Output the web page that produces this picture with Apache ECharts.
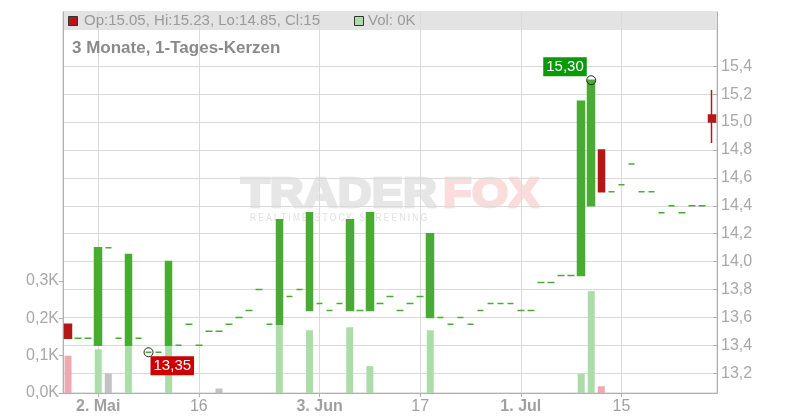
<!DOCTYPE html>
<html>
<head>
<meta charset="utf-8">
<script src="https://cdn.jsdelivr.net/npm/echarts@6/dist/echarts.min.js"></script>
<style>
html,body{margin:0;padding:0;background:#fff;}
#chart{width:800px;height:420px;}
</style>
</head>
<body>
<div id="chart"></div>
<script>
const dates = ['2024-04-29','2024-04-30','2024-05-01','2024-05-02','2024-05-03','2024-05-06','2024-05-07','2024-05-08','2024-05-09','2024-05-10',
 '2024-05-13','2024-05-14','2024-05-15','2024-05-16','2024-05-17','2024-05-20','2024-05-21','2024-05-22','2024-05-23','2024-05-24',
 '2024-05-27','2024-05-28','2024-05-29','2024-05-30','2024-05-31','2024-06-03','2024-06-04','2024-06-05','2024-06-06','2024-06-07',
 '2024-06-10','2024-06-11','2024-06-12','2024-06-13','2024-06-14','2024-06-17','2024-06-18','2024-06-19','2024-06-20','2024-06-21',
 '2024-06-24','2024-06-25','2024-06-26','2024-06-27','2024-06-28','2024-07-01','2024-07-02','2024-07-03','2024-07-04','2024-07-05',
 '2024-07-08','2024-07-09','2024-07-10','2024-07-11','2024-07-12','2024-07-15','2024-07-16','2024-07-17','2024-07-18','2024-07-19',
 '2024-07-22','2024-07-23','2024-07-24','2024-07-25','2024-07-26'];

const opens = [13.55,13.45,13.45,13.40,14.10,13.45,13.40,13.45,13.35,13.35,
 13.40,13.40,13.55,13.40,13.50,13.50,13.55,13.60,13.65,13.80,
 13.55,13.55,13.75,13.80,13.65,13.70,13.65,13.70,13.65,13.65,
 13.65,13.70,13.75,13.65,13.70,13.75,13.60,13.60,13.55,13.60,
 13.55,13.65,13.70,13.70,13.70,13.65,13.65,13.85,13.85,13.90,
 13.90,13.90,14.40,14.80,14.50,14.55,14.70,14.50,14.50,14.35,
 14.40,14.35,14.40,14.40,15.05];

const closes = [13.45,13.45,13.45,14.10,14.10,13.45,14.05,13.45,13.35,13.35,
 14.00,13.40,13.55,13.40,13.50,13.50,13.55,13.60,13.65,13.80,
 13.55,14.30,13.75,13.80,14.35,13.70,13.65,13.70,14.30,13.65,
 14.35,13.70,13.75,13.65,13.70,13.75,14.20,13.60,13.55,13.60,
 13.55,13.65,13.70,13.70,13.70,13.65,13.65,13.85,13.85,13.90,
 13.90,15.15,15.30,14.50,14.50,14.55,14.70,14.50,14.50,14.35,
 14.40,14.35,14.40,14.40,15.00];

const highs = [13.55,13.45,13.45,14.10,14.10,13.45,14.05,13.45,13.35,13.35,
 14.00,13.40,13.55,13.40,13.50,13.50,13.55,13.60,13.65,13.80,
 13.55,14.30,13.75,13.80,14.35,13.70,13.65,13.70,14.30,13.65,
 14.35,13.70,13.75,13.65,13.70,13.75,14.20,13.60,13.55,13.60,
 13.55,13.65,13.70,13.70,13.70,13.65,13.65,13.85,13.85,13.90,
 13.90,15.15,15.30,14.80,14.50,14.55,14.70,14.50,14.50,14.35,
 14.40,14.35,14.40,14.40,15.23];

const lows = [13.45,13.45,13.45,13.40,14.10,13.45,13.40,13.45,13.35,13.35,
 13.40,13.40,13.55,13.40,13.50,13.50,13.55,13.60,13.65,13.80,
 13.55,13.55,13.75,13.80,13.65,13.70,13.65,13.70,13.65,13.65,
 13.65,13.70,13.75,13.65,13.70,13.75,13.60,13.60,13.55,13.60,
 13.55,13.65,13.70,13.70,13.70,13.65,13.65,13.85,13.85,13.90,
 13.90,13.90,14.40,14.50,14.50,14.55,14.70,14.50,14.50,14.35,
 14.40,14.35,14.40,14.40,14.85];

const volumes = [100,0,0,117,53,0,130,0,0,0,
 130,0,0,0,0,12,0,0,0,0,
 0,185,0,0,168,0,0,0,176,0,
 72,0,0,0,0,0,168,0,0,0,
 0,0,0,0,0,0,0,0,0,0,
 0,52,273,18,0,0,0,0,0,0,
 0,0,0,0,0];

const xTickLabels = {3:'2. Mai', 13:'16', 25:'3. Jun', 35:'17', 45:'1. Jul', 55:'15'};
const xBoldTicks = [3, 25, 45];
const priceTicks = [13.2,13.4,13.6,13.8,14.0,14.2,14.4,14.6,14.8,15.0,15.2,15.4];
const volumeTicks = [0,100,200,300];
const highMark = {date:'2024-07-10', value:15.30, text:'15,30'};
const lowMark = {date:'2024-05-09', value:13.35, text:'13,35'};
const headerText = 'Op:15.05, Hi:15.23, Lo:14.85, Cl:15';
const volText = 'Vol: 0K';
const titleText = '3 Monate, 1-Tages-Kerzen';

const GREEN = '#4aab34', RED = '#b31717';
const VGREEN = '#acdda8', VRED = '#f0a8b0', VGRAY = '#c2c2c2';
const FONT = '"Liberation Sans", Arial, sans-serif';

const candleData = dates.map((d, i) => {
  const item = {value: [opens[i], closes[i], lows[i], highs[i]]};
  if (closes[i] < opens[i]) {
    item.itemStyle = {color: RED, color0: RED, borderColor: RED, borderColor0: RED};
  }
  return item;
});
const volData = dates.map((d, i) => ({
  value: volumes[i],
  itemStyle: {color: closes[i] > opens[i] ? VGREEN : (closes[i] < opens[i] ? VRED : VGRAY)}
}));

const chart = echarts.init(document.getElementById('chart'), null, {renderer: 'canvas'});
const showTick = (idx) => xTickLabels[idx] !== undefined;

chart.setOption({
  animation: false,
  textStyle: {fontFamily: FONT},
  grid: {left: 63, right: 83, top: 12, bottom: 27, show: true, borderColor: '#c8c8c8', borderWidth: 1, backgroundColor: 'transparent'},
  xAxis: {
    type: 'category',
    data: dates,
    boundaryGap: true,
    axisLine: {show: true, lineStyle: {color: '#b0b0b0'}},
    axisTick: {show: true, alignWithLabel: true, interval: showTick, length: 4, lineStyle: {color: '#b0b0b0'}},
    splitLine: {show: true, alignWithLabel: true, interval: showTick, lineStyle: {color: '#dadada', width: 1}},
    axisLabel: {
      interval: showTick,
      margin: 6,
      fontSize: 16,
      color: '#a0a0a0',
      formatter: (v, idx) => {
        const t = xTickLabels[idx];
        if (t === undefined) return '';
        return xBoldTicks.includes(idx) ? '{b|' + t + '}' : t;
      },
      rich: {b: {fontWeight: 'bold', fontSize: 16, color: '#a0a0a0', fontFamily: FONT}}
    }
  },
  yAxis: [
    {
      type: 'value',
      position: 'right',
      min: 13.058,
      max: 15.789,
      axisLine: {show: true, lineStyle: {color: '#b0b0b0'}},
      axisTick: {show: true, inside: true, length: 4, customValues: priceTicks, lineStyle: {color: '#b0b0b0'}},
      splitLine: {show: true, lineStyle: {color: '#dadada', width: 1}},
      axisLabel: {
        customValues: priceTicks,
        margin: 4,
        fontSize: 16,
        color: '#a8a8a8',
        formatter: v => v.toFixed(1).replace('.', ',')
      }
    },
    {
      type: 'value',
      position: 'left',
      min: 0,
      max: 1020.6,
      axisLine: {show: true, lineStyle: {color: '#b0b0b0'}},
      axisTick: {show: true, length: 4, customValues: volumeTicks, lineStyle: {color: '#b0b0b0'}},
      splitLine: {show: false},
      axisLabel: {
        customValues: volumeTicks,
        margin: 4,
        fontSize: 16,
        color: '#a8a8a8',
        formatter: v => (v / 1000).toFixed(1).replace('.', ',') + 'K'
      }
    }
  ],
  graphic: [
    {type: 'rect', z: 0, silent: true, shape: {x: 63, y: 12, width: 654, height: 18}, style: {fill: '#e3e3e3'}},
    {type: 'rect', z: 10, silent: true, shape: {x: 68.5, y: 16.5, width: 9, height: 9}, style: {fill: RED, stroke: '#333', lineWidth: 1}},
    {type: 'text', z: 10, silent: true, x: 84, y: 21, style: {text: headerText, font: '15px ' + FONT, fill: '#9a9a9a', verticalAlign: 'middle'}},
    {type: 'rect', z: 10, silent: true, shape: {x: 354.5, y: 16.5, width: 9, height: 9}, style: {fill: VGREEN, stroke: '#333', lineWidth: 1}},
    {type: 'text', z: 10, silent: true, x: 368, y: 21, style: {text: volText, font: '15px ' + FONT, fill: '#9a9a9a', verticalAlign: 'middle'}},
    {type: 'text', z: 10, silent: true, x: 72, y: 48, style: {text: titleText, font: 'bold 17px ' + FONT, fill: '#8a8a8a', verticalAlign: 'middle'}},
    {type: 'text', z: 0, silent: true, x: 241, y: 174, scaleX: 1.12, style: {text: 'TRADER', font: 'bold 42px ' + FONT, fill: '#e6e6e6', stroke: '#e6e6e6', lineWidth: 2.5}},
    {type: 'text', z: 0, silent: true, x: 443, y: 174, scaleX: 1.12, style: {text: 'FOX', font: 'bold 42px ' + FONT, fill: '#fbdcdc', stroke: '#fbdcdc', lineWidth: 2.5}},
    {type: 'text', z: 0, silent: true, x: 250, y: 213, scaleX: 0.83, style: {text: 'R E A L T I M E   S T O C K   S C R E E N I N G', font: '10px ' + FONT, fill: '#e0e0e0'}}
  ],
  series: [
    {
      type: 'bar',
      yAxisIndex: 1,
      data: volData,
      barWidth: 7,
      z: 2,
      silent: true
    },
    {
      type: 'candlestick',
      yAxisIndex: 0,
      data: candleData,
      barWidth: 7,
      z: 3,
      silent: true,
      itemStyle: {color: GREEN, color0: GREEN, borderColor: GREEN, borderColor0: GREEN, borderWidth: 1.5},
      markPoint: {
        silent: true,
        symbol: 'circle',
        symbolSize: 9,
        itemStyle: {color: 'rgba(255,255,255,0)', borderColor: '#222', borderWidth: 1},
        data: [
          {coord: [highMark.date, highMark.value],
           label: {show: true, formatter: highMark.text, position: [-43, -18], color: '#fff', backgroundColor: '#0a990a', padding: [2, 3, 1, 3], fontSize: 15, lineHeight: 16, fontFamily: FONT}},
          {coord: [lowMark.date, lowMark.value],
           label: {show: true, formatter: lowMark.text, position: [7, 9], color: '#fff', backgroundColor: '#cc0000', padding: [2, 3, 1, 3], fontSize: 15, lineHeight: 16, fontFamily: FONT}}
        ]
      }
    }
  ]
});
</script>
</body>
</html>
